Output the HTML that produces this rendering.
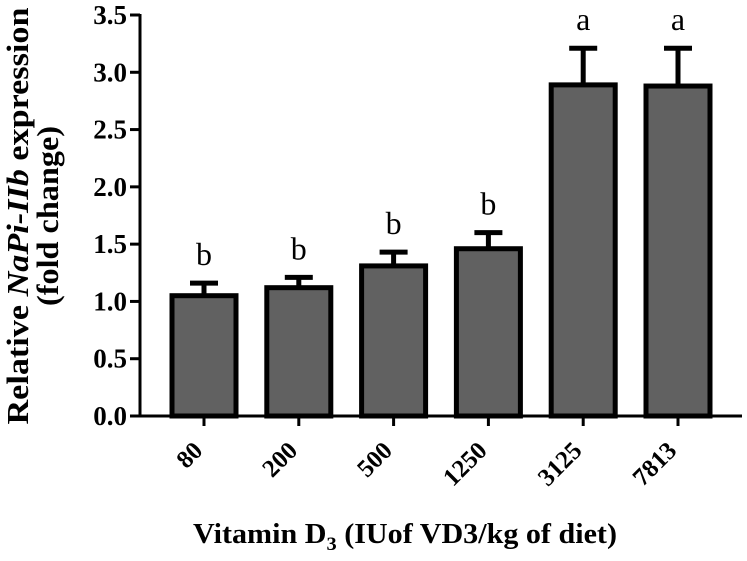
<!DOCTYPE html>
<html><head><meta charset="utf-8"><style>
html,body{margin:0;padding:0;background:#fff;}
svg{display:block;}
text{font-family:"Liberation Serif",serif;}
</style></head><body>
<svg id="chart" width="747" height="561" viewBox="0 0 747 561" xmlns="http://www.w3.org/2000/svg">
<g id="marks"></g>
<g id="axes"></g>
<text transform="translate(28,216) rotate(-90)" text-anchor="middle" font-size="31" font-weight="bold" textLength="417" lengthAdjust="spacingAndGlyphs">Relative <tspan font-style="italic">NaPi-IIb</tspan> expression</text>
<text transform="translate(58,216) rotate(-90)" text-anchor="middle" font-size="31" font-weight="bold" textLength="180" lengthAdjust="spacingAndGlyphs">(fold change)</text>
<text x="405" y="543" text-anchor="middle" font-size="28" font-weight="bold" textLength="424" lengthAdjust="spacingAndGlyphs">Vitamin  D<tspan font-size="19" dy="7">3</tspan><tspan dy="-7"> (IUof VD3/kg of diet)</tspan></text>
</svg>
<script>
const categories = ["80","200","500","1250","3125","7813"];
const values = [1.05, 1.12, 1.31, 1.46, 2.89, 2.88];
const errors = [0.11, 0.09, 0.12, 0.14, 0.32, 0.33];
const letters = ["b","b","b","b","a","a"];
const yTicks = [0,0.5,1.0,1.5,2.0,2.5,3.0,3.5];
const yTickLabels = ["0.0","0.5","1.0","1.5","2.0","2.5","3.0","3.5"];

const NS="http://www.w3.org/2000/svg";
const x0=140, x1=742, yBase=416, yTop=15, yMax=3.5;
function y(v){return yBase-(yBase-yTop)*v/yMax;}
function xc(i){return 204+i*94.8;}
const barW=64;
function mk(tag,attrs,parent){const e=document.createElementNS(NS,tag);for(const k in attrs)e.setAttribute(k,attrs[k]);parent.appendChild(e);return e;}
const marks=document.getElementById('marks'), axes=document.getElementById('axes');

values.forEach((v,i)=>{
  const cx=xc(i);
  const top=y(v+errors[i]);
  const eb=mk('path',{d:`M${cx} ${y(v)} V${top} M${cx-14} ${top} H${cx+14}`,stroke:'#000','stroke-width':5,fill:'none'},marks);
  
  
  const r=mk('rect',{x:cx-barW/2,y:y(v),width:barW,height:yBase-y(v),fill:'#616161',stroke:'#000','stroke-width':5},marks);
  
  
  const t=mk('text',{x:cx,y:top-18,'text-anchor':'middle','font-size':32},marks);
  t.textContent=letters[i];
  
  
  const tk=mk('line',{x1:cx,x2:cx,y1:yBase,y2:yBase+10,stroke:'#000','stroke-width':3},axes);
  
  
  const lb=mk('text',{transform:`translate(${cx},${452}) rotate(-45)`,'text-anchor':'end','font-size':25,'font-weight':'bold'},axes);
  lb.textContent=categories[i];
  
  
});
const ya=mk('line',{x1:x0,x2:x0,y1:yTop-1,y2:yBase+1.5,stroke:'#000','stroke-width':3},axes);


const xa=mk('line',{x1:x0-1.5,x2:x1,y1:yBase,y2:yBase,stroke:'#000','stroke-width':3},axes);


yTicks.forEach((v,i)=>{
  const tk=mk('line',{x1:x0-10,x2:x0,y1:y(v),y2:y(v),stroke:'#000','stroke-width':3},axes);
  
  
  const lb=mk('text',{x:x0-13,y:y(v)+9,'text-anchor':'end','font-size':27,'font-weight':'bold'},axes);
  lb.textContent=yTickLabels[i];
  
  
});
</script>
</body></html>
